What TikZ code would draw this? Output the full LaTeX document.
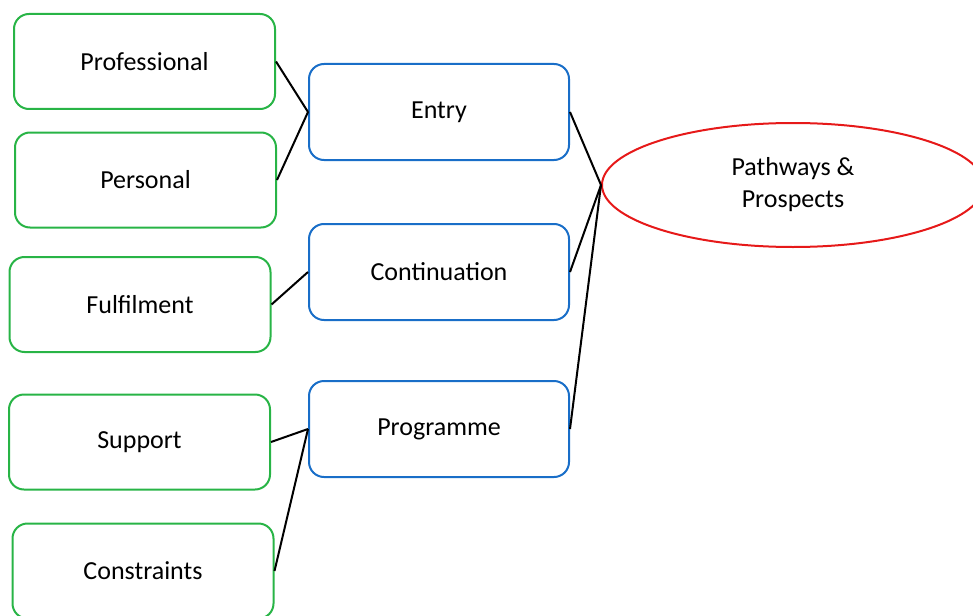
\documentclass[tikz,border=0pt]{standalone}
\usepackage{fontspec}
\setmainfont{Carlito}
\usetikzlibrary{shapes.geometric}
\definecolor{boxgreen}{RGB}{40,180,70}
\definecolor{boxblue}{RGB}{25,110,200}
\definecolor{ovalred}{RGB}{230,25,25}
\tikzset{
	factor/.style={draw=boxgreen, line width=2pt, rounded corners=15pt, minimum width=261pt, minimum height=95pt, inner sep=0pt},
	stage/.style={draw=boxblue, line width=2pt, rounded corners=15pt, minimum width=260pt, minimum height=96pt, inner sep=0pt},
	goal/.style={draw=ovalred, line width=2pt, ellipse, minimum width=382pt, minimum height=124pt, inner sep=0pt, align=center},
	link/.style={black, line width=2pt}
}
\begin{document}
\begin{tikzpicture}[x=1pt,y=-1pt,font=\fontsize{26}{32}\selectfont]
	\useasboundingbox (0,0) rectangle (973,615);
	% left column
	\node[factor] (prof) at (144.5,61.5) {Professional};
	\node[factor] (pers) at (145.5,180) {Personal};
	\node[factor] (fulf) at (140,304.5) {Fulfilment};
	\node[factor] (supp) at (139.5,442) {Support};
	\node[factor] (cons) at (143,571) {Constraints};
	% middle column
	\node[stage] (entry) at (439,112) {Entry};
	\node[stage] (cont) at (439,272) {Continuation};
	\node[stage] (prog) at (439,429) {Programme};
	% right
	\node[goal] (path) at (793,185) {Pathways \&\\Prospects};
	\draw[link] (prof.east) -- (entry.west);
	\draw[link] (pers.east) -- (entry.west);
	\draw[link] (fulf.east) -- (cont.west);
	\draw[link] (supp.east) -- (prog.west);
	\draw[link] (cons.east) -- (prog.west);
	\draw[link] (entry.east) -- (path.west);
	\draw[link] (cont.east) -- (path.west);
	\draw[link] (prog.east) -- (path.west);
\end{tikzpicture}
\end{document}
